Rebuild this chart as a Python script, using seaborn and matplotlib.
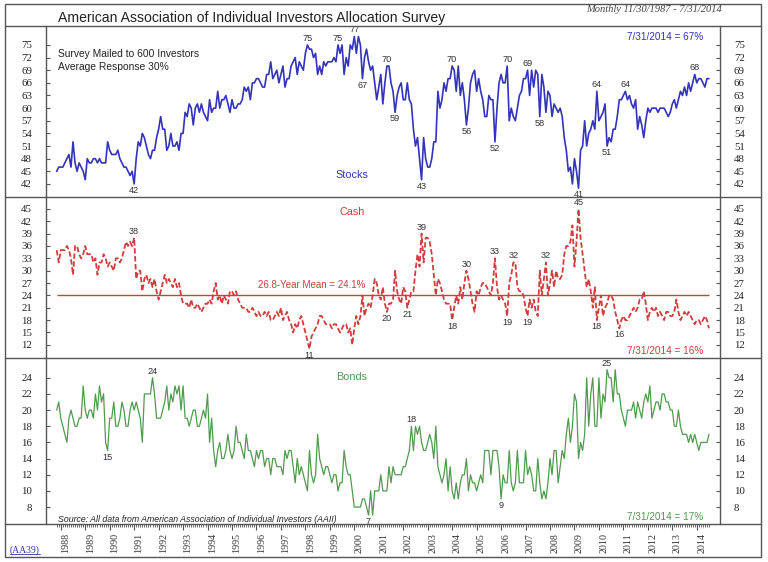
import matplotlib
matplotlib.use("Agg")
import matplotlib.pyplot as plt
from matplotlib.lines import Line2D
from matplotlib.patches import Rectangle
import pandas as pd
import seaborn as sns

W, H = 768, 562

# monthly survey readings, Nov 1987 .. Jul 2014 (percent)
stocks = [
    45, 46,                                          # 1987 Nov-Dec
    46, 46, 47, 48, 49, 46, 52, 47, 45, 47, 46, 45,  # 1988
    43, 48, 47, 47, 48, 48, 47, 48, 47, 47, 47, 52,  # 1989
    50, 49, 49, 49, 50, 48, 47, 46, 46, 45, 44, 45,  # 1990
    42, 48, 52, 51, 54, 53, 51, 49, 48, 50, 50, 53,  # 1991
    55, 58, 55, 55, 50, 51, 54, 51, 51, 52, 50, 54,  # 1992
    54, 59, 58, 61, 60, 56, 60, 61, 59, 61, 59, 58,  # 1993
    57, 62, 59, 60, 60, 64, 60, 62, 62, 63, 61, 59,  # 1994
    62, 60, 60, 61, 61, 62, 65, 64, 65, 62, 66, 66,  # 1995
    67, 67, 66, 65, 65, 68, 68, 71, 67, 68, 69, 66,  # 1996
    68, 70, 65, 67, 67, 70, 71, 72, 68, 71, 70, 69,  # 1997
    73, 75, 74, 74, 72, 73, 68, 70, 68, 71, 70, 71,  # 1998
    71, 71, 72, 71, 75, 73, 75, 68, 72, 70, 75, 74,  # 1999
    77, 73, 77, 75, 67, 72, 74, 71, 69, 70, 66, 62,  # 2000
    65, 68, 61, 66, 70, 70, 66, 64, 59, 63, 65, 66,  # 2001
    62, 62, 66, 62, 61, 55, 51, 53, 48, 43, 53, 48,  # 2002
    46, 46, 48, 52, 52, 64, 60, 62, 66, 64, 67, 67,  # 2003
    70, 69, 64, 70, 63, 66, 62, 56, 60, 66, 68, 69,  # 2004
    64, 67, 64, 62, 58, 58, 63, 62, 62, 52, 60, 66,  # 2005
    68, 66, 66, 70, 57, 60, 58, 57, 60, 63, 64, 67,  # 2006
    67, 69, 63, 69, 65, 69, 68, 58, 68, 65, 59, 64,  # 2007
    63, 58, 61, 60, 59, 60, 58, 53, 50, 45, 46, 42,  # 2008
    48, 45, 41, 50, 51, 57, 51, 54, 55, 57, 55, 64,  # 2009
    57, 58, 59, 61, 51, 53, 52, 55, 55, 58, 62, 62,  # 2010
    63, 64, 62, 63, 61, 60, 62, 55, 58, 56, 53, 57,  # 2011
    60, 59, 60, 60, 60, 59, 60, 60, 60, 59, 58, 59,  # 2012
    61, 62, 60, 62, 64, 63, 65, 63, 66, 64, 66, 68,  # 2013
    66, 67, 67, 66, 65, 67, 67,                      # 2014 Jan-Jul
]
cash = [
    35, 32,
    35, 35, 35, 36, 35, 33, 29, 36, 36, 34, 33, 34,
    36, 34, 34, 34, 32, 33, 29, 32, 32, 34, 33, 31,
    32, 31, 30, 33, 33, 32, 33, 35, 37, 36, 37, 36,
    38, 28, 30, 30, 25, 28, 29, 27, 28, 26, 28, 25,
    23, 25, 27, 29, 27, 28, 27, 26, 28, 26, 27, 24,
    22, 22, 22, 21, 23, 21, 21, 22, 21, 20, 21, 22,
    22, 23, 22, 25, 27, 23, 24, 22, 24, 23, 22, 25,
    25, 24, 25, 23, 22, 21, 21, 21, 20, 20, 21, 20,
    19, 20, 19, 19, 20, 19, 20, 18, 18, 19, 20, 19,
    21, 18, 19, 20, 18, 17, 15, 17, 16, 18, 19, 17,
    15, 13, 11, 14, 15, 16, 17, 19, 19, 18, 17, 17,
    17, 16, 17, 17, 16, 15, 16, 17, 17, 15, 16, 12,
    16, 19, 17, 19, 24, 19, 21, 22, 21, 24, 28, 27,
    24, 23, 26, 22, 20, 22, 22, 23, 30, 25, 23, 22,
    26, 25, 21, 23, 25, 25, 30, 34, 31, 39, 32, 38,
    38, 37, 34, 29, 24, 28, 27, 25, 23, 22, 22, 22,
    18, 21, 24, 22, 26, 23, 27, 30, 28, 25, 22, 20,
    25, 24, 26, 27, 27, 26, 25, 24, 27, 33, 26, 23,
    24, 23, 22, 19, 27, 29, 32, 32, 26, 25, 25, 24,
    21, 19, 23, 21, 23, 20, 19, 30, 24, 28, 32, 24,
    27, 30, 26, 30, 28, 28, 29, 34, 36, 36, 37, 41,
    31, 37, 45, 38, 34, 30, 26, 28, 25, 21, 26, 18,
    21, 24, 19, 21, 22, 24, 24, 23, 20, 18, 16, 18,
    19, 18, 18, 19, 20, 21, 20, 21, 23, 23, 25, 22,
    18, 20, 21, 20, 21, 19, 20, 19, 18, 20, 20, 19,
    19, 20, 23, 20, 18, 19, 20, 19, 20, 19, 18, 17,
    18, 18, 17, 18, 19, 18, 16,
]
bonds = [
    20, 21,
    19, 18, 17, 16, 19, 20, 19, 18, 18, 19, 19, 23,
    20, 19, 20, 20, 19, 22, 20, 23, 21, 22, 16, 15,
    19, 19, 21, 18, 18, 19, 21, 20, 18, 18, 20, 21,
    20, 21, 20, 19, 16, 22, 22, 22, 22, 24, 22, 19,
    19, 19, 20, 21, 23, 20, 22, 21, 23, 22, 23, 20,
    23, 19, 19, 18, 19, 20, 20, 18, 18, 19, 20, 19,
    22, 16, 19, 15, 13, 15, 16, 14, 14, 15, 17, 15,
    14, 15, 18, 16, 16, 15, 14, 17, 15, 15, 14, 13,
    15, 14, 15, 15, 13, 14, 14, 12, 14, 14, 13, 13,
    13, 12, 15, 14, 15, 15, 13, 11, 14, 12, 13, 12,
    11, 10, 15, 12, 11, 12, 17, 14, 13, 12, 13, 13,
    12, 11, 12, 12, 10, 11, 11, 15, 13, 12, 12, 10,
    8, 8, 8, 8, 9, 9, 8, 7, 10, 7, 10, 10,
    10, 12, 10, 10, 10, 13, 11, 13, 12, 12, 12, 12,
    13, 13, 14, 15, 18, 15, 18, 17, 18, 16, 15, 15,
    16, 17, 16, 14, 18, 13, 12, 11, 12, 14, 10, 13,
    10, 9, 11, 9, 11, 12, 12, 14, 10, 12, 11, 11,
    10, 11, 12, 11, 15, 15, 15, 12, 15, 15, 15, 13,
    9, 12, 11, 11, 15, 11, 10, 11, 15, 11, 11, 11,
    15, 12, 13, 12, 10, 10, 14, 11, 9, 10, 9, 11,
    14, 12, 15, 15, 11, 13, 15, 14, 17, 19, 16, 18,
    22, 21, 14, 16, 15, 17, 24, 18, 22, 24, 18, 18,
    24, 19, 22, 21, 25, 24, 24, 21, 25, 22, 22, 20,
    19, 18, 20, 20, 20, 21, 19, 21, 20, 19, 21, 22,
    21, 23, 19, 20, 21, 21, 20, 22, 22, 21, 21, 20,
    20, 18, 18, 20, 18, 17, 17, 17, 16, 17, 16, 17,
    16, 15, 16, 16, 16, 16, 17,
]
cash_mean = 24.1

# labelled turning points: (month, side)
stock_marks = [("1991-01", "below"), ("1998-02", "above"), ("1999-05", "above"),
               ("2000-01", "above"), ("2000-05", "below"), ("2001-05", "above"),
               ("2001-09", "below"), ("2002-10", "below"), ("2004-01", "above"),
               ("2004-08", "below"), ("2005-10", "below"), ("2006-04", "above"),
               ("2007-02", "above"), ("2007-08", "below"), ("2009-03", "below"),
               ("2009-12", "above"), ("2010-05", "below"), ("2011-02", "above"),
               ("2013-12", "above")]
cash_marks = [("1991-01", "above"), ("1998-03", "below"), ("2001-05", "below"),
              ("2002-03", "below"), ("2002-10", "above"), ("2004-01", "below"),
              ("2004-08", "above"), ("2005-10", "above"), ("2006-04", "below"),
              ("2006-07", "above"), ("2007-02", "below"), ("2007-11", "above"),
              ("2009-03", "above"), ("2009-12", "below"), ("2010-11", "below")]
bond_marks = [("1989-12", "below"), ("1991-10", "above"), ("2000-08", "below"),
              ("2002-05", "above"), ("2006-01", "below"), ("2010-05", "above")]

years = list(range(1988, 2015))

BLUE = "#3333bb"
RED = "#d23c3c"
GREEN = "#4f9a4f"
FRAME = "#555555"
INK = "#333333"
SANS = "Liberation Sans"
SERIF = "Liberation Serif"

months = pd.date_range("1987-11-01", periods=len(stocks), freq="MS")
df = pd.DataFrame({
    "t": months.year + (months.month - 1) / 12,
    "Stocks": stocks,
    "Cash": cash,
    "Bonds": bonds,
})

sns.set_style("white")
plt.rcParams["font.family"] = [SANS, "DejaVu Sans"]

fig = plt.figure(figsize=(W / 100, H / 100), dpi=100)


def fx(px):
    return px / W


def fy(py):
    return 1 - py / H


def add_panel(top, bottom):
    return fig.add_axes([fx(46), fy(bottom), fx(720) - fx(46), (bottom - top) / H])


def style_panel(ax, ylim, yticks):
    ax.set_xlim(1987.396, 2014.95)
    ax.set_ylim(*ylim)
    ax.set_yticks(yticks)
    ax.set_xlabel("")
    ax.set_ylabel("")
    ax.set_facecolor("white")
    for side in ["top", "bottom"]:
        ax.spines[side].set_visible(False)
    for side in ["left", "right"]:
        ax.spines[side].set_color(FRAME)
        ax.spines[side].set_linewidth(1.0)
    ax.tick_params(axis="y", which="both", left=True, right=True,
                   labelleft=True, labelright=True, direction="in",
                   length=3, width=0.8, color=FRAME, pad=10,
                   labelsize=7.8, labelcolor="#222222",
                   labelfontfamily=SERIF)
    ax.tick_params(axis="x", which="both", bottom=False, labelbottom=False)


def mark(ax, col, marks):
    for month, side in marks:
        y, m = month.split("-")
        t = int(y) + (int(m) - 1) / 12
        val = df.loc[(df["t"] - t).abs() < 1e-6, col].iloc[0]
        up = side == "above"
        ax.annotate(str(int(val)), (t, val), xytext=(0, 1.5 if up else -1.5),
                    textcoords="offset points", ha="center",
                    va="bottom" if up else "top", fontsize=6.6, color=INK)


ax_s = add_panel(26, 197)
ax_c = add_panel(197, 358)
ax_b = add_panel(358, 524)

# stocks
sns.lineplot(data=df, x="t", y="Stocks", ax=ax_s, color=BLUE, linewidth=1.2)
style_panel(ax_s, (38.9, 79.5), list(range(42, 76, 3)))
mark(ax_s, "Stocks", stock_marks)

# cash
sns.lineplot(data=df, x="t", y="Cash", ax=ax_c, color=RED, linewidth=1.3,
             linestyle=(0, (3, 1.4)))
ax_c.hlines(cash_mean, df["t"].iloc[0], df["t"].iloc[-1], color=RED, lw=1.0)
style_panel(ax_c, (8.8, 47.9), list(range(12, 46, 3)))
mark(ax_c, "Cash", cash_marks)

# bonds
sns.lineplot(data=df, x="t", y="Bonds", ax=ax_b, color=GREEN, linewidth=0.9)
style_panel(ax_b, (5.9, 26.45), list(range(8, 25, 2)))
mark(ax_b, "Bonds", bond_marks)

ax_b.set_xticks(years)
ax_b.set_xticks(df["t"], minor=True)
ax_b.tick_params(axis="x", which="major", bottom=True, direction="out",
                 length=4.5, width=0.8, color=FRAME, labelbottom=False)
ax_b.tick_params(axis="x", which="minor", bottom=True, direction="out",
                 length=2.5, width=0.6, color=FRAME)
for yr in years:
    ax_b.text(yr + 0.2, -9 / 166, str(yr), transform=ax_b.get_xaxis_transform(),
              rotation=90, ha="center", va="top", fontsize=7.2, family=SERIF,
              color=INK)

# frame and rules
fig.add_artist(Rectangle((fx(5), fy(557)), fx(761) - fx(5), (557 - 4) / H,
                         fill=False, ec=FRAME, lw=1.0))
for py in [26, 197, 358, 524]:
    fig.add_artist(Line2D([fx(5), fx(761)], [fy(py), fy(py)], color=FRAME, lw=1.0))

# texts
fig.text(fx(58), fy(18), "American Association of Individual Investors Allocation Survey",
         ha="left", va="center", fontsize=10.1, color="#222222")
fig.text(fx(722), fy(10), "Monthly 11/30/1987 - 7/31/2014", ha="right", va="center",
         fontsize=7.6, style="italic", family=SERIF, color="#444444")
fig.text(fx(58), fy(54), "Survey Mailed to 600 Investors", ha="left", va="center",
         fontsize=7.4, color="#222222")
fig.text(fx(58), fy(67), "Average Response 30%", ha="left", va="center",
         fontsize=7.4, color="#222222")
fig.text(fx(703), fy(37), "7/31/2014 = 67%", ha="right", va="center",
         fontsize=7.2, color=BLUE)
fig.text(fx(352), fy(175), "Stocks", ha="center", va="center", fontsize=7.8, color=BLUE)
fig.text(fx(352), fy(212), "Cash", ha="center", va="center", fontsize=7.8, color=RED)
fig.text(fx(312), fy(285), "26.8-Year Mean = 24.1%", ha="center", va="center",
         fontsize=7.0, color=RED)
fig.text(fx(703), fy(351), "7/31/2014 = 16%", ha="right", va="center",
         fontsize=7.2, color=RED)
fig.text(fx(352), fy(377), "Bonds", ha="center", va="center", fontsize=7.8, color=GREEN)
fig.text(fx(703), fy(517), "7/31/2014 = 17%", ha="right", va="center",
         fontsize=7.2, color=GREEN)
fig.text(fx(58), fy(519), "Source: All data from American Association of Individual Investors (AAII)",
         ha="left", va="center", fontsize=6.3, style="italic", color="#222222")
fig.text(fx(10), fy(550), "(AA39)", ha="left", va="center", fontsize=7,
         family=SERIF, color="#3333aa")
fig.add_artist(Line2D([fx(10), fx(40)], [fy(554), fy(554)], color="#3333aa", lw=0.6))

fig.savefig("out.png", dpi=100)
